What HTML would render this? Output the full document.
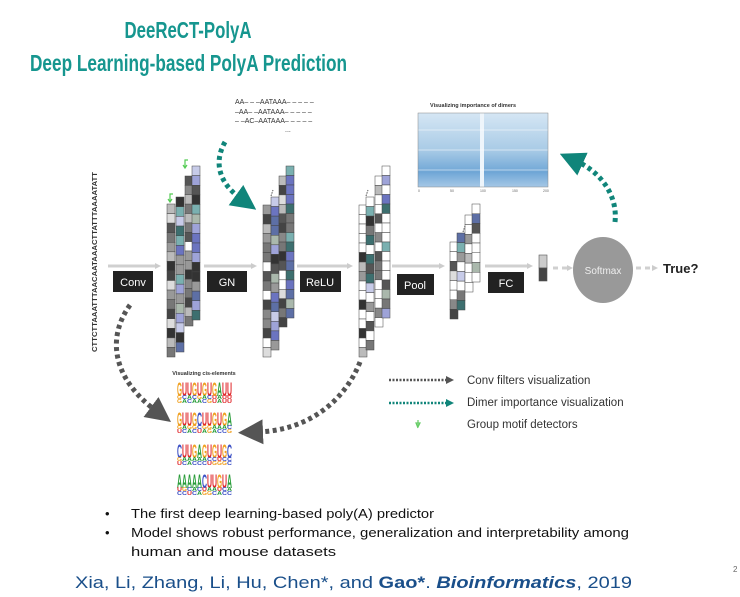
<!DOCTYPE html>
<html><head><meta charset="utf-8"><style>
html,body{margin:0;padding:0;background:#fff;width:740px;height:597px;overflow:hidden}
svg{display:block}
</style></head><body>
<svg id="s" width="740" height="597" viewBox="0 0 740 597" xmlns="http://www.w3.org/2000/svg" font-family="Liberation Sans, sans-serif">
<defs>
<marker id="ag" markerWidth="5" markerHeight="5" refX="1" refY="2.5" orient="auto" markerUnits="strokeWidth"><path d="M0,0 L5,2.5 L0,5z" fill="#555"/></marker>
<marker id="at" markerWidth="5" markerHeight="5" refX="1" refY="2.5" orient="auto" markerUnits="strokeWidth"><path d="M0,0 L5,2.5 L0,5z" fill="#10857a"/></marker>
<marker id="al" markerWidth="6" markerHeight="6" refX="3" refY="3" orient="auto" markerUnits="userSpaceOnUse"><path d="M0,0 L6,3 L0,6z" fill="#ccc"/></marker>
<linearGradient id="hm" x1="0" x2="0" y1="0" y2="1">
<stop offset="0" stop-color="#d5e6f4"/><stop offset="0.5" stop-color="#a9cbe6"/><stop offset="0.8" stop-color="#6fa6d6"/><stop offset="1" stop-color="#a6c8e6"/></linearGradient>
</defs>
<text x="188" y="38" text-anchor="middle" font-size="23" font-weight="bold" fill="#16968f" textLength="127" lengthAdjust="spacingAndGlyphs">DeeReCT-PolyA</text>
<text x="30" y="71" font-size="23" font-weight="bold" fill="#16968f" textLength="317" lengthAdjust="spacingAndGlyphs">Deep Learning-based PolyA Prediction</text>
<g font-size="7" fill="#333" font-family="Liberation Sans">
<text x="235" y="104">AA– – –AATAAA– – – – –</text>
<text x="235" y="114">–AA– –AATAAA– – – – –</text>
<text x="235" y="123">– –AC–AATAAA– – – – –</text>
<text x="285" y="132">...</text>
</g>
<text transform="translate(97,352) rotate(-90)" font-size="7.5" font-weight="bold" fill="#333" textLength="180" lengthAdjust="spacingAndGlyphs">CTTCTTAAATTTAACAATAAACTTATTTAAAATATT</text>
<g stroke="#d0d0d0" stroke-width="3" fill="none">
<line x1="108" y1="266" x2="158" y2="266" marker-end="url(#al)"/>
<line x1="204" y1="266" x2="254" y2="266" marker-end="url(#al)"/>
<line x1="297" y1="266" x2="350" y2="266" marker-end="url(#al)"/>
<line x1="392" y1="266" x2="442" y2="266" marker-end="url(#al)"/>
<line x1="485" y1="266" x2="530" y2="266" marker-end="url(#al)"/>
<line x1="553" y1="268" x2="570" y2="268" stroke-dasharray="5 4" marker-end="url(#al)"/>
<line x1="636" y1="268" x2="655" y2="268" stroke-dasharray="5 4" marker-end="url(#al)"/>
</g>
<g id="cols"></g>
<g stroke="#5c5" fill="none" stroke-width="1.2">
<path d="M170,202 l0,-8 l3,0 m-5,5 l2,3 l2,-3"/>
<path d="M185,168 l0,-8 l3,0 m-5,5 l2,3 l2,-3"/>
</g>
<g stroke="#555" stroke-width="1" stroke-dasharray="1.5 1"><line x1="271" y1="196" x2="273" y2="190"/><line x1="366" y1="196" x2="368" y2="190"/><line x1="463" y1="232" x2="465" y2="226"/></g>
<g font-size="11" fill="#fff">
<rect x="113" y="271" width="40" height="21" fill="#222"/><text x="133" y="286" text-anchor="middle">Conv</text>
<rect x="207" y="271" width="40" height="21" fill="#222"/><text x="227" y="286" text-anchor="middle">GN</text>
<rect x="300" y="271" width="41" height="21" fill="#222"/><text x="320" y="286" text-anchor="middle">ReLU</text>
<rect x="397" y="274" width="37" height="21" fill="#222"/><text x="415" y="289" text-anchor="middle">Pool</text>
<rect x="488" y="272" width="36" height="21" fill="#222"/><text x="506" y="287" text-anchor="middle">FC</text>
</g>
<rect x="539" y="255" width="8" height="13" fill="#ccc" stroke="#555" stroke-width="0.6"/>
<rect x="539" y="268" width="8" height="13" fill="#444" stroke="#555" stroke-width="0.6"/>
<ellipse cx="603" cy="270" rx="30" ry="33" fill="#999"/>
<text x="603" y="274" text-anchor="middle" font-size="10" fill="#eee">Softmax</text>
<text x="663" y="273" font-size="13" font-weight="bold" fill="#222">True?</text>
<text x="430" y="107" font-size="5.5" font-weight="bold" fill="#333">Visualizing importance of dimers</text>
<rect x="418" y="113" width="130" height="74" fill="url(#hm)"/>
<rect x="480" y="113" width="4" height="74" fill="#eef5fb"/>
<g stroke="#ffffff" stroke-opacity="0.25" stroke-width="2"><line x1="418" y1="130" x2="548" y2="130"/><line x1="418" y1="150" x2="548" y2="150"/><line x1="418" y1="170" x2="548" y2="170"/></g>
<rect x="418" y="113" width="130" height="74" fill="none" stroke="#888" stroke-width="0.5"/>
<g font-size="3.5" fill="#666"><text x="418" y="192">0</text><text x="450" y="192">50</text><text x="480" y="192">100</text><text x="512" y="192">150</text><text x="543" y="192">200</text></g>
<path d="M225,142 C212,165 222,185 240,198" fill="none" stroke="#10857a" stroke-width="5" stroke-dasharray="4 3.5" marker-end="url(#at)"/>
<path d="M615,222 C618,195 600,172 578,162" fill="none" stroke="#10857a" stroke-width="5" stroke-dasharray="4 3.5" marker-end="url(#at)"/>
<path d="M130,305 C105,340 115,380 155,410" fill="none" stroke="#555" stroke-width="5" stroke-dasharray="4 3.5" marker-end="url(#ag)"/>
<path d="M360,362 C345,400 310,430 258,432" fill="none" stroke="#555" stroke-width="5" stroke-dasharray="4 3.5" marker-end="url(#ag)"/>
<text x="204" y="375" text-anchor="middle" font-size="5.5" font-weight="bold" fill="#333">Visualizing cis-elements</text>
<g id="logos" font-family="Liberation Sans" font-weight="bold"></g>
<line x1="389" y1="380" x2="446" y2="380" stroke="#555" stroke-width="2.5" stroke-dasharray="2 1.5"/><path d="M446,376 L454,380 L446,384z" fill="#555"/>
<line x1="389" y1="403" x2="446" y2="403" stroke="#10857a" stroke-width="2.5" stroke-dasharray="2 1.5"/><path d="M446,399 L454,403 L446,407z" fill="#10857a"/>
<path d="M418,428 l-2,-5 l4,0 l-2,4 m0,0 l0,-7" stroke="#6c6" fill="none" stroke-width="1.2"/>
<g font-size="11.5" fill="#333"><text x="467" y="384">Conv filters visualization</text><text x="467" y="406">Dimer importance visualization</text><text x="467" y="428">Group motif detectors</text></g>
<g font-size="13" fill="#111">
<text x="105" y="518">•</text><text x="131" y="518" textLength="303" lengthAdjust="spacingAndGlyphs">The first deep learning-based poly(A) predictor</text>
<text x="105" y="537">•</text><text x="131" y="537" textLength="498" lengthAdjust="spacingAndGlyphs">Model shows robust performance, generalization and interpretability among</text>
<text x="131" y="556" textLength="205" lengthAdjust="spacingAndGlyphs">human and mouse datasets</text>
</g>
<text x="75" y="588" font-size="17" fill="#1a4f8a" textLength="557" lengthAdjust="spacingAndGlyphs">Xia, Li, Zhang, Li, Hu, Chen*, and <tspan font-weight="bold">Gao*</tspan>. <tspan font-weight="bold" font-style="italic">Bioinformatics</tspan>, 2019</text>
<text x="733" y="572" font-size="8" fill="#666">2</text>
</svg>
<script>
var NS="http://www.w3.org/2000/svg",g=document.getElementById('cols');
var seed=7;function r(){seed=(seed*9301+49297)%233280;return seed/233280;}
var grays=['#333','#555','#777','#999','#bbb','#ddd','#fff','#444','#888'];
var blues=['#6b74c0','#7ab0b0','#aab8ac','#5d6fa5','#9ea3d8','#3d6f6f','#c7cbe8'];
function col(x,y,y2,w,pal,white){var n=Math.round((y2-y)/9.5),h=(y2-y)/n;
for(var i=0;i<n;i++){var e=document.createElementNS(NS,'rect');e.setAttribute('x',x);e.setAttribute('y',y+i*h);e.setAttribute('width',w);e.setAttribute('height',h);
var c=pal[Math.floor(r()*pal.length)];if(white&&r()<0.45)c='#fff';e.setAttribute('fill',c);e.setAttribute('stroke','#444');e.setAttribute('stroke-width','0.5');g.appendChild(e);}}
function stack(x0,tops,bots,white){for(var k=0;k<4;k++){col(x0[k],tops[k],bots[k],8,k%2?blues.concat(grays.slice(0,4)):grays,white);}}
stack([167,176,185,192],[204,197,176,166],[357,352,326,320],false);
stack([263,271,279,286],[205,197,176,166],[357,350,327,318],false);
stack([359,366,375,382],[205,197,176,166],[357,350,327,318],true);
stack([450,457,465,472],[242,233,215,204],[319,310,292,282],true);
var L=document.getElementById('logos');
var cl={A:'#2a9d3a',C:'#3b4fc4',G:'#f0a020',U:'#e0282c'};
var rows=[['GUUGUGUGAUU',378],['GUUGCUUGUGA',408],['CUUGAGUGUGC',440],['AAAAACUUGUA',470]];
rows.forEach(function(rw){var s=rw[0];for(var i=0;i<s.length;i++){
var t=document.createElementNS(NS,'text');t.setAttribute('transform','translate('+(177+i*5)+','+(rw[1]+18)+') scale(1,1.6)');t.setAttribute('font-size','12');t.setAttribute('fill',cl[s[i]]);t.setAttribute('textLength','5');t.setAttribute('lengthAdjust','spacingAndGlyphs');t.textContent=s[i];L.appendChild(t);
for(var j=0;j<2;j++){var t2=document.createElementNS(NS,'text');var ch='ACGU'[Math.floor(r()*4)];t2.setAttribute('x',177+i*5);t2.setAttribute('y',rw[1]+21+j*4);t2.setAttribute('font-size','5');t2.setAttribute('fill',cl[ch]);t2.setAttribute('textLength','5');t2.setAttribute('lengthAdjust','spacingAndGlyphs');t2.textContent=ch;L.appendChild(t2);}}});
</script>
</body></html>
